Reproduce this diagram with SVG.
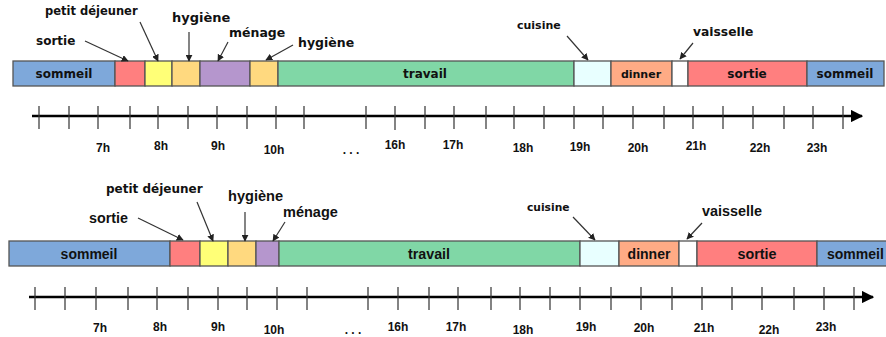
<svg xmlns="http://www.w3.org/2000/svg" width="886" height="337" viewBox="0 0 886 337">
<defs>
<marker id="ah" viewBox="0 0 10 10" refX="9" refY="5" markerWidth="7" markerHeight="7" markerUnits="userSpaceOnUse" orient="auto"><path d="M0,0 L10,5 L0,10 z" fill="#222"/></marker>
<marker id="axh" viewBox="0 0 10 10" refX="9" refY="5" markerWidth="5" markerHeight="5" orient="auto"><path d="M0,0 L10,5 L0,10 z" fill="#000"/></marker>
<style>
.seg{stroke:#555;stroke-width:1.3}
.sm{fill:#7EA8DA}.so{fill:#FF7F7F}.pd{fill:#FFFF77}.hy{fill:#FFD97F}.me{fill:#B596CD}.tr{fill:#80D7A6}.cu{fill:#E8FFFF}.di{fill:#FFAB85}.va{fill:#FFFFFF}
.t1{font-family:"DejaVu Sans",sans-serif;font-weight:bold;fill:#111}
.t2{font-family:"Liberation Sans",Arial,sans-serif;font-weight:bold;fill:#111}
.hr{font-family:"Liberation Sans",Arial,sans-serif;font-weight:bold;font-size:12px;fill:#111;text-anchor:middle}
.arr{stroke:#333;stroke-width:1.2;fill:none;marker-end:url(#ah)}
.axis{stroke:#000;stroke-width:2.5;marker-end:url(#axh)}
.tick{stroke:#333;stroke-width:1.2}
.c{text-anchor:middle}
</style>
</defs>

<!-- TOP TIMELINE -->
<g id="top-bar">
<g id="t-sommeil1"><rect class="seg sm" x="13" y="61" width="102" height="25"/><text class="t1 c" x="64" y="78" font-size="12">sommeil</text></g>
<g id="t-sortie1"><rect class="seg so" x="115" y="61" width="30" height="25"/></g>
<g id="t-petitdej"><rect class="seg pd" x="145" y="61" width="27" height="25"/></g>
<g id="t-hygiene1"><rect class="seg hy" x="172" y="61" width="28" height="25"/></g>
<g id="t-menage"><rect class="seg me" x="200" y="61" width="50" height="25"/></g>
<g id="t-hygiene2"><rect class="seg hy" x="250" y="61" width="28" height="25"/></g>
<g id="t-travail"><rect class="seg tr" x="278" y="61" width="296" height="25"/><text class="t1 c" x="425" y="78" font-size="12">travail</text></g>
<g id="t-cuisine"><rect class="seg cu" x="574" y="61" width="37" height="25"/></g>
<g id="t-dinner"><rect class="seg di" x="611" y="61" width="61" height="25"/><text class="t1 c" x="641" y="78" font-size="11">dinner</text></g>
<g id="t-vaisselle"><rect class="seg va" x="672" y="61" width="16" height="25"/></g>
<g id="t-sortie2"><rect class="seg so" x="688" y="61" width="119" height="25"/><text class="t1 c" x="747" y="78" font-size="12">sortie</text></g>
<g id="t-sommeil2"><rect class="seg sm" x="807" y="61" width="77" height="25"/><text class="t1 c" x="845" y="78" font-size="12">sommeil</text></g>
</g>
<g id="top-labels">
<text class="t1" x="36" y="45" font-size="12">sortie</text>
<text class="t1" x="45" y="15" font-size="11.5">petit déjeuner</text>
<text class="t1" x="172" y="22" font-size="13">hygiène</text>
<text class="t1" x="229" y="37" font-size="12.5">ménage</text>
<text class="t1" x="298" y="47" font-size="12.5">hygiène</text>
<text class="t1" x="517" y="29" font-size="11">cuisine</text>
<text class="t1" x="693" y="36" font-size="12.3">vaisselle</text>
</g>
<g id="top-connectors">
<line class="arr" x1="85" y1="41" x2="128" y2="61"/>
<line class="arr" x1="140" y1="22" x2="158" y2="61"/>
<line class="arr" x1="189" y1="32" x2="189" y2="61"/>
<line class="arr" x1="228" y1="42" x2="218" y2="61"/>
<line class="arr" x1="293" y1="45" x2="266" y2="60"/>
<line class="arr" x1="567" y1="36" x2="588" y2="60"/>
<line class="arr" x1="693" y1="43" x2="680" y2="59"/>
</g>
<g id="top-axis">
<line class="axis" x1="32" y1="116" x2="862" y2="116"/>
<path class="tick" d="M39,106V129M69,106V129M98,106V129M130,106V129M158,106V129M188,106V129M217,106V129M247,106V129M276,106V129M304,106V129M366,106V129M395,106V130M425,106V129M454,106V129M486,106V129M514,106V129M544,106V129M574,106V129M603,106V129M633,106V129M664,106V129M693,106V129M723,106V129M753,106V129M784,106V129M813,106V129M843,106V129"/>
<text class="hr" x="103" y="152">7h</text>
<text class="hr" x="161" y="150">8h</text>
<text class="hr" x="218" y="150">9h</text>
<text class="hr" x="274" y="154">10h</text>
<text class="hr" x="351" y="154">. . .</text>
<text class="hr" x="395" y="149">16h</text>
<text class="hr" x="453" y="149">17h</text>
<text class="hr" x="523" y="152">18h</text>
<text class="hr" x="580" y="151">19h</text>
<text class="hr" x="638" y="152">20h</text>
<text class="hr" x="696" y="150">21h</text>
<text class="hr" x="760" y="152">22h</text>
<text class="hr" x="817" y="152">23h</text>
</g>

<!-- BOTTOM TIMELINE -->
<g id="bottom-bar">
<g id="b-sommeil1"><rect class="seg sm" x="9" y="241" width="161" height="25"/><text class="t2 c" x="89" y="259" font-size="14">sommeil</text></g>
<g id="b-sortie1"><rect class="seg so" x="170" y="241" width="30" height="25"/></g>
<g id="b-petitdej"><rect class="seg pd" x="200" y="241" width="28" height="25"/></g>
<g id="b-hygiene"><rect class="seg hy" x="228" y="241" width="28" height="25"/></g>
<g id="b-menage"><rect class="seg me" x="256" y="241" width="23" height="25"/></g>
<g id="b-travail"><rect class="seg tr" x="279" y="241" width="301" height="25"/><text class="t2 c" x="429" y="259" font-size="14.3">travail</text></g>
<g id="b-cuisine"><rect class="seg cu" x="580" y="241" width="39" height="25"/></g>
<g id="b-dinner"><rect class="seg di" x="619" y="241" width="60" height="25"/><text class="t2 c" x="649" y="259" font-size="14">dinner</text></g>
<g id="b-vaisselle"><rect class="seg va" x="679" y="241" width="18" height="25"/></g>
<g id="b-sortie2"><rect class="seg so" x="697" y="241" width="120" height="25"/><text class="t2 c" x="757" y="259" font-size="14.3">sortie</text></g>
<g id="b-sommeil2"><rect class="seg sm" x="817" y="241" width="72" height="25"/><text class="t2" x="827" y="259" font-size="14">sommeil</text></g>
</g>
<g id="bottom-labels">
<text class="t2" x="89" y="223" font-size="14.3">sortie</text>
<text class="t1" x="106" y="193" font-size="12">petit déjeuner</text>
<text class="t2" x="228" y="201" font-size="14.6">hygiène</text>
<text class="t2" x="283" y="217" font-size="14.5">ménage</text>
<text class="t1" x="527" y="211" font-size="10.7">cuisine</text>
<text class="t2" x="702" y="216" font-size="14.4">vaisselle</text>
</g>
<g id="bottom-connectors">
<line class="arr" x1="138" y1="218" x2="183" y2="240"/>
<line class="arr" x1="197" y1="202" x2="213" y2="241"/>
<line class="arr" x1="245" y1="212" x2="245" y2="241"/>
<line class="arr" x1="285" y1="222" x2="273" y2="241"/>
<line class="arr" x1="573" y1="217" x2="595" y2="240"/>
<line class="arr" x1="702" y1="223" x2="687" y2="239"/>
</g>
<g id="bottom-axis">
<line class="axis" x1="29" y1="297" x2="873" y2="297"/>
<path class="tick" d="M35,287V310M65,287V310M96,287V310M128,287V310M157,287V310M188,287V310M218,287V310M247,287V310M277,287V310M307,287V310M368,287V310M398,287V310M429,287V310M458,287V310M491,287V310M520,287V310M550,287V310M580,287V310M611,287V310M641,287V310M672,287V310M702,287V310M732,287V310M762,287V310M794,287V310M824,287V310M854,287V310"/>
<text class="hr" x="100" y="332">7h</text>
<text class="hr" x="160" y="331">8h</text>
<text class="hr" x="218" y="331">9h</text>
<text class="hr" x="274" y="334">10h</text>
<text class="hr" x="353" y="334">. . .</text>
<text class="hr" x="398" y="331">16h</text>
<text class="hr" x="456" y="331">17h</text>
<text class="hr" x="523" y="334">18h</text>
<text class="hr" x="586" y="331">19h</text>
<text class="hr" x="644" y="332">20h</text>
<text class="hr" x="704" y="332">21h</text>
<text class="hr" x="769" y="334">22h</text>
<text class="hr" x="826" y="331">23h</text>
</g>
</svg>
